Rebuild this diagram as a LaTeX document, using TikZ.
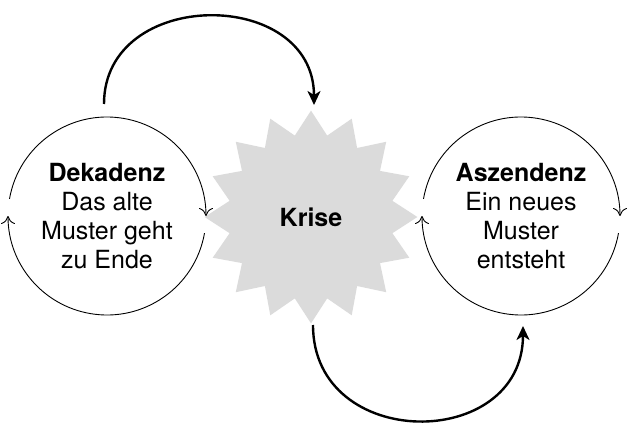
\documentclass[tikz,border=0pt]{standalone}
\usepackage{fontspec}
\setmainfont{TeX Gyre Heros}
\usetikzlibrary{shapes.geometric,arrows.meta}
\begin{document}
\begin{tikzpicture}[x=1pt,y=1pt,
  lbl/.style={align=center,font=\fontsize{25}{29}\selectfont},
  ring/.style={line width=0.9pt,-{To[length=8pt,width=14pt]}},
  big/.style={line width=2.4pt,-{Stealth[length=14pt,width=13pt,inset=4pt]}}]
\useasboundingbox (0,0) rectangle (627,432);
\node[star,star points=16,star point ratio=0.78,minimum size=166,rotate=11.25,fill=gray!28,draw=none] (K) at (311,215) {};
\node[font=\fontsize{25}{29}\selectfont\bfseries] at (K) {Krise};
\coordinate (L) at (107,216);
\coordinate (R) at (521,216);
\node[lbl] (LT) at (L) {\textbf{Dekadenz}\\Das alte\\Muster geht\\zu Ende};
\node[lbl] (RT) at (R) {\textbf{Aszendenz}\\Ein neues\\Muster\\entsteht};
\foreach \c in {L,R}{
  \draw[ring] ([shift={(170:99)}]\c) arc (170:0:99);
  \draw[ring] ([shift={(-10:99)}]\c) arc (-10:-180:99);
}
\coordinate (A1) at (104,328);
\coordinate (A2) at (314,327);
\draw[big] (A1) .. controls (104,445) and (314,445) .. (A2);
\coordinate (B1) at (313,107);
\coordinate (B2) at (523,106);
\draw[big] (B1) .. controls (313,-20) and (523,-20) .. (B2);
\end{tikzpicture}
\end{document}
